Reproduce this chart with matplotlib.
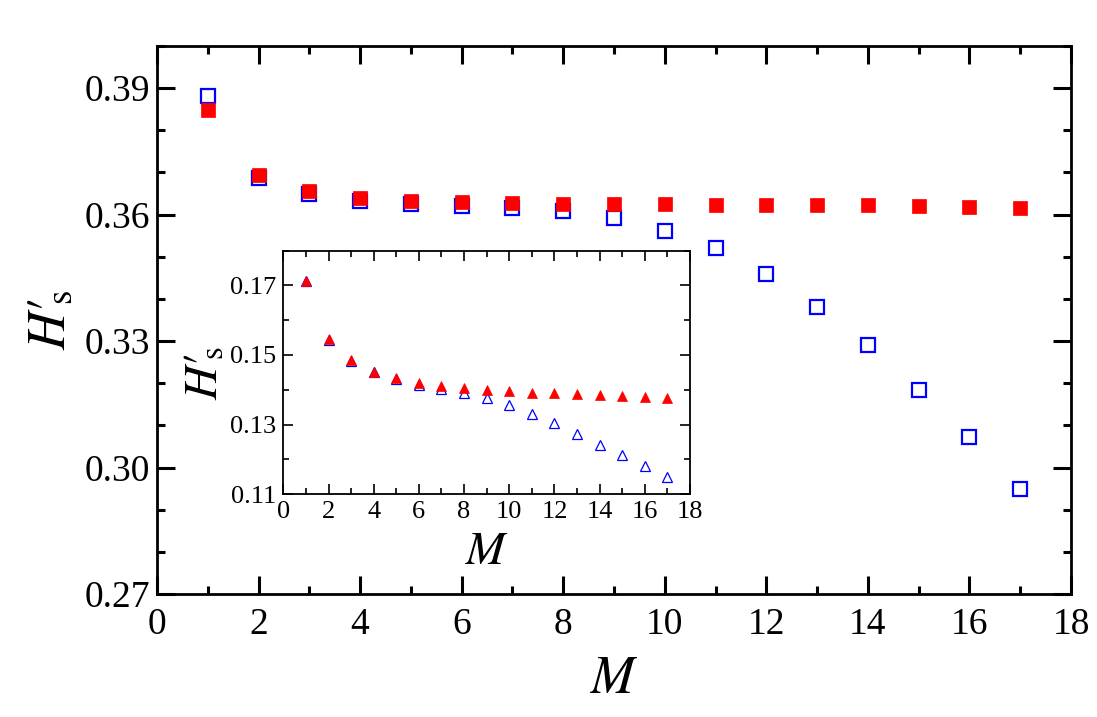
import numpy as np
import matplotlib
matplotlib.use("Agg")
import matplotlib.pyplot as plt
from matplotlib.ticker import MultipleLocator, FormatStrFormatter

plt.rcParams['font.family'] = ['Liberation Serif', 'DejaVu Serif']
plt.rcParams['mathtext.fontset'] = 'stix'

# main panel data
M = np.arange(1, 18)
main_open = [0.3882, 0.3688, 0.3650, 0.3633, 0.3625, 0.3620, 0.3616, 0.3609, 0.3591,
             0.3561, 0.3520, 0.3459, 0.3381, 0.3290, 0.3185, 0.3073, 0.2948]
main_filled = [0.3849, 0.3694, 0.3655, 0.3640, 0.3633, 0.3629, 0.3628, 0.3626, 0.3625,
               0.3625, 0.3624, 0.3624, 0.3623, 0.3622, 0.3621, 0.3619, 0.3616]

# inset data
inset_open = [0.1714, 0.1543, 0.1482, 0.1450, 0.1431, 0.1413, 0.1401, 0.1391, 0.1376,
              0.1355, 0.1329, 0.1303, 0.1272, 0.1242, 0.1211, 0.1180, 0.1150]
inset_filled = [0.1714, 0.1546, 0.1485, 0.1452, 0.1434, 0.1420, 0.1410, 0.1405, 0.1400,
                0.1396, 0.1392, 0.1390, 0.1388, 0.1385, 0.1383, 0.1380, 0.1377]

ylab = "$H{\\prime}_{\\!\\!\\mathrm{s}}$"

fig = plt.figure(figsize=(10.97, 7.17), dpi=100)

ax = fig.add_axes([0.1431, 0.1715, 0.8332, 0.7643])
ax.plot(M, main_open, ls='none', marker='s', ms=9.4, mfc='none', mec='#0000ff', mew=1.6)
ax.plot(M, main_filled, ls='none', marker='s', ms=9.4, mfc='#ff0000', mec='#ff0000', mew=0.5)
ax.set_xlim(0, 18)
ax.set_ylim(0.27, 0.40)
ax.xaxis.set_major_locator(MultipleLocator(2))
ax.xaxis.set_minor_locator(MultipleLocator(1))
ax.yaxis.set_major_locator(MultipleLocator(0.03))
ax.yaxis.set_minor_locator(MultipleLocator(0.01))
ax.yaxis.set_major_formatter(FormatStrFormatter('%.2f'))
ax.tick_params(which='both', direction='in', top=True, right=True, width=2.2, labelsize=27)
ax.tick_params(which='major', length=13)
ax.tick_params(axis='x', which='major', pad=10)
ax.tick_params(axis='y', which='major', pad=5)
ax.tick_params(which='minor', length=6)
for s in ax.spines.values():
    s.set_linewidth(2.0)
ax.set_xlabel('$M$', fontsize=38, labelpad=10)
ax.set_ylabel(ylab, fontsize=38, labelpad=6)

ins = fig.add_axes([0.2583, 0.3110, 0.3707, 0.3393])
ins.set_facecolor('white')
ins.plot(M, inset_open, ls='none', marker='^', ms=7, mfc='none', mec='#0000ff', mew=0.9)
ins.plot(M, inset_filled, ls='none', marker='^', ms=7, mfc='#ff0000', mec='#ff0000', mew=0.5)
ins.set_xlim(0, 18)
ins.set_ylim(0.11, 0.18)
ins.xaxis.set_major_locator(MultipleLocator(2))
ins.xaxis.set_minor_locator(MultipleLocator(1))
ins.yaxis.set_major_locator(MultipleLocator(0.02, offset=0.01))
ins.yaxis.set_minor_locator(MultipleLocator(0.01))
ins.yaxis.set_major_formatter(FormatStrFormatter('%.2f'))
ins.tick_params(which='both', direction='in', top=True, right=True, width=1.2, labelsize=19)
ins.tick_params(which='major', length=7, pad=5)
ins.tick_params(which='minor', length=4)
for s in ins.spines.values():
    s.set_linewidth(1.3)
ins.set_xlabel('$M$', fontsize=34, labelpad=6)
ins.set_ylabel(ylab, fontsize=34, labelpad=2)

fig.savefig('out.png', dpi=100)
